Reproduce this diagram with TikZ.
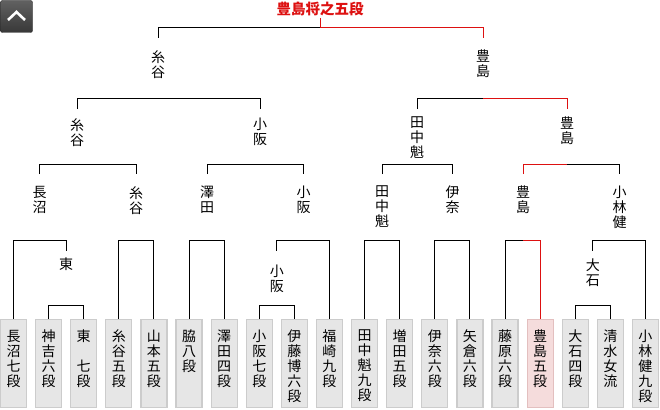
\documentclass[tikz,border=0pt]{standalone}
\usepackage{fontspec}
\setmainfont{Noto Sans CJK JP}
\definecolor{wred}{HTML}{DD1111}
\definecolor{boxfill}{HTML}{E6E6E6}
\definecolor{boxline}{HTML}{CCCCCC}
\definecolor{tfill}{HTML}{F5DCDC}
\definecolor{tline}{HTML}{E3BFBF}
\begin{document}
\begin{tikzpicture}[x=1pt,y=-1pt,
  ln/.style={line width=1pt, black},
  rl/.style={line width=1pt, wred},
  box/.style={draw=boxline, fill=boxfill, line width=1.2pt, minimum width=26pt, minimum height=88pt, inner sep=0pt},
  tbox/.style={box, draw=tline, fill=tfill},
  lab/.style={font=\fontsize{14}{15}\selectfont, align=center, anchor=north, inner sep=0pt},
  ttl/.style={font=\fontsize{14.5}{15}\selectfont\bfseries, text=wred, anchor=north, inner sep=0pt},
  upbtn/.style={draw=black!85, rounded corners=2pt, top color=black!62, bottom color=black!78, minimum size=32pt, inner sep=0pt}
]
\useasboundingbox (0,0) rectangle (660,409);
\fill[white] (0,0) rectangle (660,409);

% up button
\node[upbtn] (up) at (16.5,16.5) {};
\draw[white, line width=2.6pt] ([shift={(-8.5,3.5)}]up.center) -- ([shift={(0,-4.5)}]up.center) -- ([shift={(8.5,3.5)}]up.center);

% title and winner labels
\node[ttl] (W) at (320,1.5) {豊島将之五段};
\node[lab] (A1) at (158,50) {糸\\谷};
\node[lab] (A2) at (483,50) {豊\\島};
\node[lab] (B1) at (77,118) {糸\\谷};
\node[lab] (B2) at (260,118) {小\\阪};
\node[lab] (B3) at (417,117) {田\\中\\魁};
\node[lab] (B4) at (567,117) {豊\\島};
\node[lab] (C1) at (39.5,186) {長\\沼};
\node[lab] (C2) at (136,186) {糸\\谷};
\node[lab] (C3) at (207,186) {澤\\田};
\node[lab] (C4) at (303.5,186) {小\\阪};
\node[lab] (C5) at (382,186) {田\\中\\魁};
\node[lab] (C6) at (452.5,186) {伊\\奈};
\node[lab] (C7) at (523,186) {豊\\島};
\node[lab] (C8) at (619.5,186) {小\\林\\健};
\node[lab] (D1) at (66.2,258) {東};
\node[lab] (D2) at (276.8,265) {小\\阪};
\node[lab] (D3) at (592.8,259) {大\\石};

% player boxes
\node[box] (p0) at (13.5,363.5) {};
\node[box] (p1) at (48.61,363.5) {};
\node[box] (p2) at (83.72,363.5) {};
\node[box] (p3) at (118.83,363.5) {};
\node[box] (p4) at (153.94,363.5) {};
\node[box] (p5) at (189.05,363.5) {};
\node[box] (p6) at (224.16,363.5) {};
\node[box] (p7) at (259.27,363.5) {};
\node[box] (p8) at (294.38,363.5) {};
\node[box] (p9) at (329.49,363.5) {};
\node[box] (p10) at (364.6,363.5) {};
\node[box] (p11) at (399.71,363.5) {};
\node[box] (p12) at (434.82,363.5) {};
\node[box] (p13) at (469.93,363.5) {};
\node[box] (p14) at (505.04,363.5) {};
\node[tbox] (p15) at (540.15,363.5) {};
\node[box] (p16) at (575.26,363.5) {};
\node[box] (p17) at (610.37,363.5) {};
\node[box] (p18) at (645.48,363.5) {};

\node[lab] (t0) at ([yshift=-11pt]p0.north) {長\\沼\\七\\段};
\node[lab] (t1) at ([yshift=-11pt]p1.north) {神\\吉\\六\\段};
\node[lab] (t2) at ([yshift=-11pt]p2.north) {東\\　\\七\\段};
\node[lab] (t3) at ([yshift=-11pt]p3.north) {糸\\谷\\五\\段};
\node[lab] (t4) at ([yshift=-11pt]p4.north) {山\\本\\五\\段};
\node[lab] (t5) at ([yshift=-11pt]p5.north) {脇\\八\\段};
\node[lab] (t6) at ([yshift=-11pt]p6.north) {澤\\田\\四\\段};
\node[lab] (t7) at ([yshift=-11pt]p7.north) {小\\阪\\七\\段};
\node[lab] (t8) at ([yshift=-11pt]p8.north) {伊\\藤\\博\\六\\段};
\node[lab] (t9) at ([yshift=-11pt]p9.north) {福\\崎\\九\\段};
\node[lab] (t10) at ([yshift=-11pt]p10.north) {田\\中\\魁\\九\\段};
\node[lab] (t11) at ([yshift=-11pt]p11.north) {増\\田\\五\\段};
\node[lab] (t12) at ([yshift=-11pt]p12.north) {伊\\奈\\六\\段};
\node[lab] (t13) at ([yshift=-11pt]p13.north) {矢\\倉\\六\\段};
\node[lab] (t14) at ([yshift=-11pt]p14.north) {藤\\原\\六\\段};
\node[lab] (t15) at ([yshift=-11pt]p15.north) {豊\\島\\五\\段};
\node[lab] (t16) at ([yshift=-11pt]p16.north) {大\\石\\四\\段};
\node[lab] (t17) at ([yshift=-11pt]p17.north) {清\\水\\女\\流};
\node[lab] (t18) at ([yshift=-11pt]p18.north) {小\\林\\健\\九\\段};

% level 1
\draw[ln] (A1 |- 0,38) |- (W |- 0,28);
\draw[rl] (W |- 0,18) -- (W |- 0,28) -| (A2 |- 0,38);
% level 2
\draw[ln] (B1 |- 0,109) |- (B2 |- 0,99) -- (B2 |- 0,109);
\draw[ln] (B3 |- 0,109) |- (A2 |- 0,99);
\draw[rl] (A2 |- 0,99) -| (B4 |- 0,109);
% level 3
\draw[ln] (C1 |- 0,174) |- (C2 |- 0,164) -- (C2 |- 0,174);
\draw[ln] (C3 |- 0,174) |- (C4 |- 0,164) -- (C4 |- 0,174);
\draw[ln] (C5 |- 0,174) |- (C6 |- 0,164) -- (C6 |- 0,174);
\draw[rl] (C7 |- 0,174) |- (B4 |- 0,164);
\draw[ln] (B4 |- 0,164) -| (C8 |- 0,174);
% level 4
\draw[ln] (p0.north) |- (D1 |- 0,240.5) -- (D1 |- 0,250.5);
\draw[ln] (p3.north) |- (p4.north |- 0,240.5) -- (p4.north);
\draw[ln] (p5.north) |- (p6.north |- 0,240.5) -- (p6.north);
\draw[ln] (D2 |- 0,250.5) |- (p9.north |- 0,240.5) -- (p9.north);
\draw[ln] (p10.north) |- (p11.north |- 0,240.5) -- (p11.north);
\draw[ln] (p12.north) |- (p13.north |- 0,240.5) -- (p13.north);
\draw[ln] (p14.north) |- (C7 |- 0,240.5);
\draw[rl] (C7 |- 0,240.5) -| (p15.north);
\draw[ln] (D3 |- 0,250.5) |- (p18.north |- 0,240.5) -- (p18.north);
% level 5
\draw[ln] (p1.north) |- (p2.north |- 0,305) -- (p2.north);
\draw[ln] (p7.north) |- (p8.north |- 0,305) -- (p8.north);
\draw[ln] (p16.north) |- (p17.north |- 0,305) -- (p17.north);
\end{tikzpicture}
\end{document}
